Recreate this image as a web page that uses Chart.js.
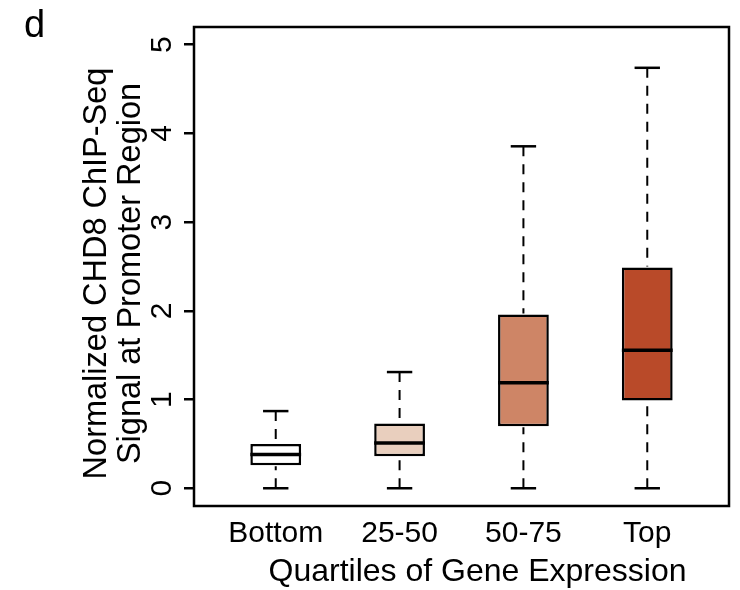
<!DOCTYPE html>
<html><head><meta charset="utf-8">
<script src="https://cdn.jsdelivr.net/npm/chart.js@4"></script>
<style>html,body{margin:0;padding:0;background:#fff}</style>
</head><body>
<canvas id="c" width="740" height="590"></canvas>
<script>
const categories = ['Bottom', '25-50', '50-75', 'Top'];
const whiskerLow = [0, 0, 0, 0];
const q1 = [0.26, 0.36, 0.70, 0.99];
const median = [0.38, 0.51, 1.19, 1.555];
const q3 = [0.50, 0.73, 1.96, 2.49];
const whiskerHigh = [0.87, 1.31, 3.855, 4.74];
const yTicks = [0, 1, 2, 3, 4, 5];
const boxColors = ['#FFFFFF', '#E9CFBE', '#CE8566', '#B94A29'];
const panelLetter = 'd';
const xTitle = 'Quartiles of Gene Expression';
const yTitle = ['Normalized CHD8 ChIP-Seq', 'Signal at Promoter Region'];

const FONT = "'Liberation Sans', Arial, Helvetica, sans-serif";

const boxPlugin = {
  id: 'boxExtras',
  afterDatasetsDraw(chart) {
    const ctx = chart.ctx;
    const ys = chart.scales.y;
    const meta = chart.getDatasetMeta(0);
    ctx.save();
    ctx.strokeStyle = '#000';
    meta.data.forEach((bar, i) => {
      const x = bar.x, w = bar.width;
      const pHi = ys.getPixelForValue(whiskerHigh[i]);
      const pQ3 = ys.getPixelForValue(q3[i]);
      const pLo = ys.getPixelForValue(whiskerLow[i]);
      const pQ1 = ys.getPixelForValue(q1[i]);
      const pMed = ys.getPixelForValue(median[i]);
      ctx.lineWidth = 2;
      ctx.setLineDash([10, 8]);
      ctx.beginPath(); ctx.moveTo(x, pHi); ctx.lineTo(x, pQ3 - 1); ctx.stroke();
      ctx.beginPath(); ctx.moveTo(x, pLo); ctx.lineTo(x, pQ1 + 1); ctx.stroke();
      ctx.setLineDash([]);
      ctx.lineWidth = 2.5;
      ctx.beginPath(); ctx.moveTo(x - w / 4, pHi); ctx.lineTo(x + w / 4, pHi); ctx.stroke();
      ctx.beginPath(); ctx.moveTo(x - w / 4, pLo); ctx.lineTo(x + w / 4, pLo); ctx.stroke();
      ctx.lineWidth = 3.5;
      ctx.beginPath(); ctx.moveTo(x - w / 2, pMed); ctx.lineTo(x + w / 2, pMed); ctx.stroke();
    });
    const a = chart.chartArea;
    ctx.lineWidth = 2.5;
    ctx.strokeRect(a.left, a.top, a.right - a.left, a.bottom - a.top);
    ctx.fillStyle = '#000';
    ctx.font = '30px ' + FONT;
    ctx.textAlign = 'center';
    ctx.textBaseline = 'middle';
    yTicks.forEach(v => {
      const py = ys.getPixelForValue(v);
      ctx.save();
      ctx.translate(ys.right - 31, py);
      ctx.rotate(-Math.PI / 2);
      ctx.fillText(String(v), 0, 0);
      ctx.restore();
    });
    ctx.font = '32.5px ' + FONT;
    const midY = (a.top + a.bottom) / 2 + 7;
    [97, 131].forEach((lx, k) => {
      ctx.save();
      ctx.translate(lx, midY);
      ctx.rotate(-Math.PI / 2);
      ctx.fillText(yTitle[k], 0, 0);
      ctx.restore();
    });
    ctx.font = '32px ' + FONT;
    ctx.fillText(xTitle, (a.left + a.right) / 2 + 16, 572);
    ctx.font = '38px ' + FONT;
    ctx.textAlign = 'left';
    ctx.textBaseline = 'alphabetic';
    ctx.fillText(panelLetter, 24, 37);
    ctx.restore();
  }
};

new Chart(document.getElementById('c'), {
  type: 'bar',
  data: {
    datasets: [{
      data: categories.map((c, i) => ({ x: i + 1, y: [q1[i], q3[i]] })),
      backgroundColor: boxColors,
      borderColor: '#000',
      borderWidth: 2.5,
      borderSkipped: false,
      barPercentage: 0.41,
      categoryPercentage: 1
    }]
  },
  options: {
    responsive: false,
    animation: false,
    devicePixelRatio: 1,
    layout: { padding: { top: 27, right: 11, left: 0, bottom: 0 } },
    plugins: { legend: { display: false }, tooltip: { enabled: false }, title: { display: false } },
    scales: {
      x: {
        type: 'linear',
        offset: false,
        min: 0.34, max: 4.66,
        afterBuildTicks: s => { s.ticks = categories.map((c, i) => ({ value: i + 1 })); },
        afterFit: s => { s.height = 84; },
        grid: { display: false, drawTicks: false },
        border: { display: false },
        ticks: {
          autoSkip: false, maxRotation: 0, minRotation: 0,
          padding: 10,
          color: '#000',
          font: { family: FONT, size: 30 },
          callback: (v) => categories[Math.round(v) - 1]
        },
        title: { display: false }
      },
      y: {
        type: 'linear',
        min: -0.2, max: 5.2,
        afterBuildTicks: s => { s.ticks = yTicks.map(v => ({ value: v })); },
        afterFit: s => { s.width = 194; },
        grid: { drawOnChartArea: false, drawTicks: true, tickLength: 10, color: '#000', lineWidth: 2.5 },
        border: { display: false },
        ticks: { display: false },
        title: { display: false }
      }
    }
  },
  plugins: [boxPlugin]
});
</script>
</body></html>
